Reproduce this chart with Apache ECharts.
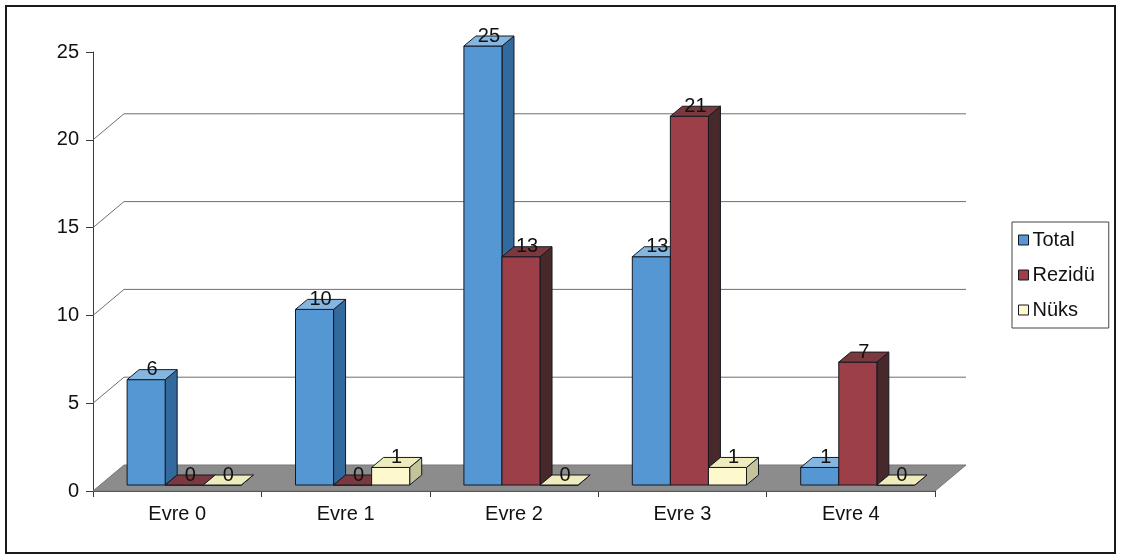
<!DOCTYPE html>
<html>
<head>
<meta charset="utf-8">
<script src="https://cdn.jsdelivr.net/npm/echarts@6/dist/echarts.min.js"></script>
<style>
  html, body { margin: 0; padding: 0; background: #fff; }
  #chart { width: 1121px; height: 558px; }
</style>
</head>
<body>
<div id="chart"></div>
<script>
// Stage categories and counts per group
const categories = ['Evre 0', 'Evre 1', 'Evre 2', 'Evre 3', 'Evre 4'];
const seriesNames = ['Total', 'Rezidü', 'Nüks'];
const totalValues = [6, 10, 25, 13, 1];
const reziduValues = [0, 0, 13, 21, 7];
const nuksValues = [0, 1, 0, 1, 0];
const yTickValues = [5, 10, 15, 20];

// Face colours: front, side, top
const palette = [
  { front: '#5597d3', side: '#336a9d', top: '#84b6e0' },
  { front: '#9c3f48', side: '#47292b', top: '#7a393e' },
  { front: '#fdf9cd', side: '#c4c39b', top: '#eeebbd' }
];

const FONT = '"Liberation Sans", Arial, sans-serif';
// Depth of the whole plot box (back wall offset) and of each column
const WALL = [31, -26];
const FRONT = [7, -6];
const DEPTH = [12, -10];
const BAR_RATIO = 0.226;

function barRenderer(k) {
  const col = palette[k];
  return function (params, api) {
    const idx = api.value(0);
    const val = api.value(1);
    const top = api.coord([idx, val]);
    const base = api.coord([idx, 0]);
    const band = api.size([1, 0])[0];
    const bw = band * BAR_RATIO;
    const x0 = top[0] - 1.5 * bw + k * bw + FRONT[0];
    const x1 = x0 + bw;
    const yT = top[1] + FRONT[1];
    const yB = base[1] + FRONT[1];
    const stroke = { stroke: '#161820', lineWidth: 1 };
    const children = [
      {
        type: 'polygon',
        shape: { points: [[x1, yT], [x1 + DEPTH[0], yT + DEPTH[1]], [x1 + DEPTH[0], yB + DEPTH[1]], [x1, yB]] },
        style: Object.assign({ fill: col.side }, stroke)
      },
      {
        type: 'rect',
        shape: { x: x0, y: yT, width: bw, height: Math.max(yB - yT, 0) },
        style: Object.assign({ fill: col.front }, stroke)
      },
      {
        type: 'polygon',
        shape: { points: [[x0, yT], [x0 + DEPTH[0], yT + DEPTH[1]], [x1 + DEPTH[0], yT + DEPTH[1]], [x1, yT]] },
        style: Object.assign({ fill: col.top }, stroke)
      },
      {
        type: 'text',
        style: {
          text: String(val),
          x: (x0 + x1) / 2 + DEPTH[0] / 2,
          y: yT + DEPTH[1] / 2 - 5,
          align: 'center',
          verticalAlign: 'middle',
          font: '20px ' + FONT,
          fill: '#111'
        },
        z2: 10
      }
    ];
    return { type: 'group', children: children };
  };
}

const seriesData = [totalValues, reziduValues, nuksValues];

const barSeries = seriesData.map(function (arr, k) {
  return {
    name: seriesNames[k],
    type: 'custom',
    renderItem: barRenderer(k),
    itemStyle: { color: palette[k].front },
    encode: { x: 0, y: 1 },
    data: arr.map(function (v, i) { return [i, v]; }),
    z: 5
  };
});

const chart = echarts.init(document.getElementById('chart'), null, { renderer: 'canvas' });

chart.setOption({
  animation: false,
  backgroundColor: '#ffffff',
  grid: { left: 93, right: 186, top: 52, bottom: 67 },
  xAxis: {
    type: 'category',
    data: categories,
    boundaryGap: true,
    axisLine: { lineStyle: { color: '#3a3a3a', width: 1 } },
    axisTick: { show: true, length: 6, interval: 0, lineStyle: { color: '#3a3a3a' } },
    axisLabel: { fontSize: 20, fontFamily: FONT, color: '#111', margin: 13 },
    splitLine: { show: false }
  },
  yAxis: {
    type: 'value',
    min: 0,
    max: 25,
    interval: 5,
    axisLine: { show: true, lineStyle: { color: '#3a3a3a', width: 1 } },
    axisTick: { show: true, length: 7, lineStyle: { color: '#3a3a3a' } },
    axisLabel: { fontSize: 20, fontFamily: FONT, color: '#111', margin: 14 },
    splitLine: { show: false }
  },
  legend: {
    orient: 'vertical',
    left: 1012,
    top: 222,
    data: seriesNames,
    icon: 'rect',
    itemWidth: 10,
    itemHeight: 10,
    itemGap: 15,
    padding: [8, 14, 8, 6],
    borderColor: '#444',
    borderWidth: 1,
    itemStyle: { borderColor: '#161820', borderWidth: 1 },
    textStyle: { fontSize: 20, fontFamily: FONT, color: '#111', padding: [0, 0, 0, -1] }
  },
  graphic: [
    {
      type: 'rect',
      shape: { x: 6, y: 6, width: 1109, height: 547 },
      style: { fill: 'none', stroke: '#1a1a1a', lineWidth: 2 },
      z: 100
    }
  ],
  series: [
    {
      // floor plane
      type: 'custom',
      silent: true,
      z: 1,
      data: [[0]],
      renderItem: function (params, api) {
        const cs = params.coordSys;
        const y0 = api.coord([0, api.value(0)])[1];
        const xa = cs.x, xb = cs.x + cs.width;
        return {
          type: 'polygon',
          shape: { points: [[xa, y0], [xa + WALL[0], y0 + WALL[1]], [xb + WALL[0], y0 + WALL[1]], [xb, y0]] },
          style: { fill: '#8c8c8c', stroke: '#777', lineWidth: 1 }
        };
      }
    },
    {
      // back wall gridlines with their side-wall connectors
      type: 'custom',
      silent: true,
      z: 1,
      data: yTickValues.map(function (v) { return [v]; }),
      renderItem: function (params, api) {
        const cs = params.coordSys;
        const y = api.coord([0, api.value(0)])[1];
        const xa = cs.x, xb = cs.x + cs.width;
        return {
          type: 'polyline',
          shape: { points: [[xa, y], [xa + WALL[0], y + WALL[1]], [xb + WALL[0], y + WALL[1]]] },
          style: { fill: 'none', stroke: '#6e6e6e', lineWidth: 1 }
        };
      }
    }
  ].concat(barSeries)
});
</script>
</body>
</html>
